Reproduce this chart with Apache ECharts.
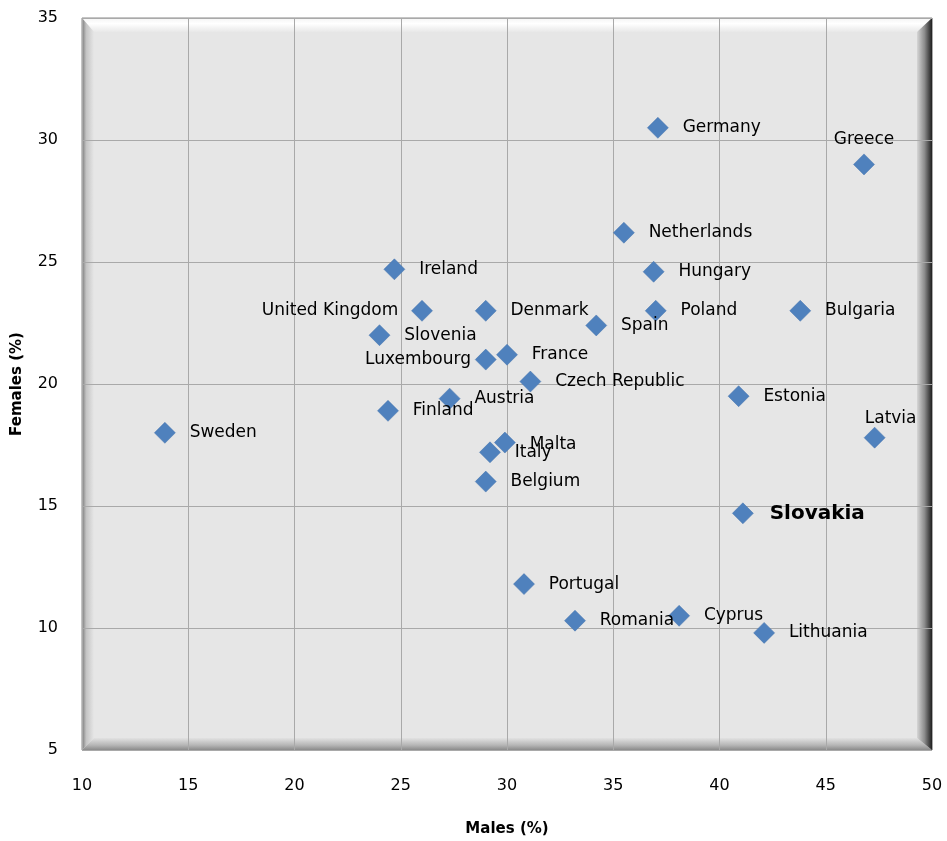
<!DOCTYPE html>
<html><head><meta charset="utf-8">
<script src="https://cdn.jsdelivr.net/npm/echarts@6/dist/echarts.min.js"></script>
<style>html,body{margin:0;padding:0;background:#fff}#c{width:947px;height:841px}</style>
</head><body><div id="c"></div>
<script>
const countries = ["Germany","Greece","Netherlands","Ireland","Hungary","United Kingdom","Denmark","Poland","Bulgaria","Spain","Slovenia","Luxembourg","France","Czech Republic","Estonia","Austria","Finland","Sweden","Latvia","Malta","Italy","Belgium","Slovakia","Portugal","Romania","Cyprus","Lithuania"];
const males   = [37.1,46.8,35.5,24.7,36.9,26.0,29.0,37.0,43.8,34.2,24.0,29.0,30.0,31.1,40.9,27.3,24.4,13.9,47.3,29.9,29.2,29.0,41.1,30.8,33.2,38.1,42.1];
const females = [30.5,29.0,26.2,24.7,24.6,23.0,23.0,23.0,23.0,22.4,22.0,21.0,21.2,20.1,19.5,19.4,18.9,18.0,17.8,17.6,17.2,16.0,14.7,11.8,10.3,10.5,9.8];
const xTicks = [10,15,20,25,30,35,40,45,50];
const yTicks = [5,10,15,20,25,30,35];

const FONT = "'DejaVu Sans', sans-serif";
const labelPlacement = {
  "Greece": {position:'top', distance:6},
  "Latvia": {position:'top', distance:0, offset:[16,0]},
  "United Kingdom": {position:'left', distance:13},
  "Luxembourg": {position:'left', distance:4},
  "Malta": {position:'right', distance:14, offset:[0,2]},
  "Slovakia": {position:'right', distance:16, fontSize:20, fontWeight:'bold'}
};

const data = countries.map((n,i)=>{
  const p = labelPlacement[n] || {position:'right', distance:14};
  const lab = {show:true, position:p.position, distance:p.distance, formatter:n};
  if (p.offset) lab.offset = p.offset;
  if (p.fontSize) lab.fontSize = p.fontSize;
  if (p.fontWeight) lab.fontWeight = p.fontWeight;
  return {name:n, value:[males[i], females[i]], label:lab};
});

const L=82,T=18,R=932,B=750, bt=14, bl=12, br=15, bb=12;
const chart = echarts.init(document.getElementById('c'));
chart.setOption({
  animation:false,
  grid:{left:L, top:T, right:947-R, bottom:841-B, containLabel:false, outerBoundsMode:'none'},
  graphic:[
    {type:'rect', z:-10, shape:{x:L,y:T,width:R-L,height:B-T}, style:{fill:'#e6e6e6', stroke:'#8a8a8a', lineWidth:1}},
    {type:'polygon', z:-9, shape:{points:[[L,T],[R,T],[R-br,T+bt],[L+bl,T+bt]]},
      style:{fill:new echarts.graphic.LinearGradient(0,0,0,1,[{offset:0,color:'#f4f4f4'},{offset:0.4,color:'#ffffff'},{offset:1,color:'#e8e8e8'}])}},
    {type:'polygon', z:-9, shape:{points:[[L,T],[L+bl,T+bt],[L+bl,B-bb],[L,B]]},
      style:{fill:new echarts.graphic.LinearGradient(0,0,1,0,[{offset:0,color:'#7a7a7a'},{offset:0.35,color:'#c4c4c4'},{offset:1,color:'#e6e6e6'}])}},
    {type:'polygon', z:-9, shape:{points:[[L,B],[L+bl,B-bb],[R-br,B-bb],[R,B]]},
      style:{fill:new echarts.graphic.LinearGradient(0,0,0,1,[{offset:0,color:'#e2e2e2'},{offset:0.6,color:'#b5b5b5'},{offset:1,color:'#8a8a8a'}])}},
    {type:'polygon', z:-9, shape:{points:[[R,T],[R,B],[R-br,B-bb],[R-br,T+bt]]},
      style:{fill:new echarts.graphic.LinearGradient(0,0,1,0,[{offset:0,color:'#d6d6d6'},{offset:0.5,color:'#8c8c8c'},{offset:1,color:'#1e1e1e'}])}}
  ],
  xAxis:{type:'value', min:xTicks[0], max:xTicks[xTicks.length-1], interval:5,
    name:'Males (%)', nameLocation:'middle', nameGap:72,
    nameTextStyle:{fontFamily:FONT, fontSize:15, fontWeight:'bold', color:'#000'},
    axisLine:{show:false}, axisTick:{show:false},
    axisLabel:{margin:28, fontFamily:FONT, fontSize:16, color:'#000'},
    splitLine:{show:true, lineStyle:{color:'#a9a9a9', width:1}}},
  yAxis:{type:'value', min:yTicks[0], max:yTicks[yTicks.length-1], interval:5,
    name:'Females (%)', nameLocation:'middle', nameGap:57,
    nameTextStyle:{fontFamily:FONT, fontSize:15, fontWeight:'bold', color:'#000'},
    axisLine:{show:false}, axisTick:{show:false},
    axisLabel:{margin:24, fontFamily:FONT, fontSize:16, color:'#000'},
    splitLine:{show:true, lineStyle:{color:'#a9a9a9', width:1}}},
  series:[{type:'scatter', symbol:'diamond', symbolSize:21, data:data,
    itemStyle:{color:'#4f81bd', opacity:1, borderColor:'#4573ad', borderWidth:0.5},
    label:{color:'#000', fontFamily:FONT, fontSize:17}}]
});
</script></body></html>
